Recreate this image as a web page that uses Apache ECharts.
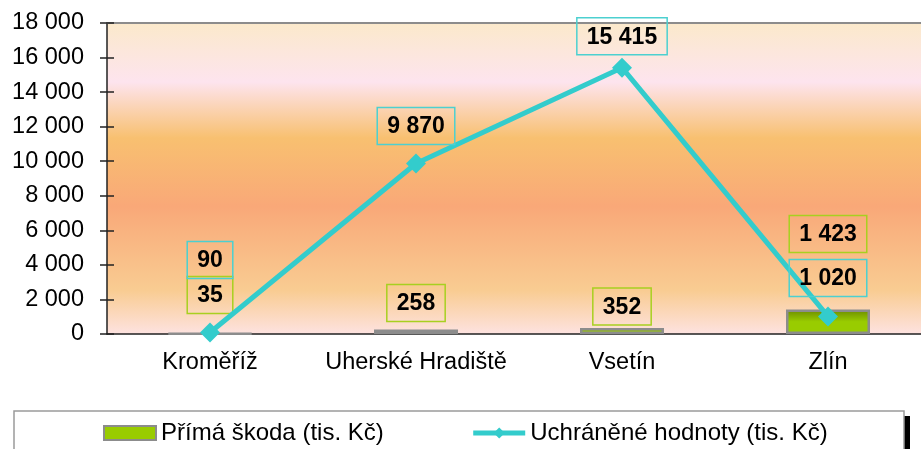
<!DOCTYPE html>
<html>
<head>
<meta charset="utf-8">
<script src="https://cdn.jsdelivr.net/npm/echarts@6.0.0/dist/echarts.min.js"></script>
<style>
  html, body { margin: 0; padding: 0; background: #fff; }
  #chart { width: 921px; height: 449px; }
</style>
</head>
<body>
<div id="chart"></div>
<script>
// data
const districts = ["Kroměříž", "Uherské Hradiště", "Vsetín", "Zlín"];
const primaDamage = [35, 258, 352, 1423];
const savedValues = [90, 9870, 15415, 1020];
// label lift above each mark (Excel labels were moved by hand)
const damageLabelLift = [19, 8, 3, 57];
const savedLabelLift = [44, 9, 3, 10];

const FONT = "Liberation Sans, Arial, sans-serif";

function spaced(v) {
  return String(v).replace(/\B(?=(\d{3})+(?!\d))/g, " ");
}

const chart = echarts.init(document.getElementById("chart"));

const plotFill = new echarts.graphic.LinearGradient(0, 0, 0, 1, [
  { offset: 0, color: "#fbe9cb" },
  { offset: 0.19, color: "#fde4ee" },
  { offset: 0.37, color: "#f8c070" },
  { offset: 0.59, color: "#f9a878" },
  { offset: 0.86, color: "#f9cc92" },
  { offset: 1, color: "#fde2e0" },
]);

const barFill = new echarts.graphic.LinearGradient(0, 0, 0, 1, [
  { offset: 0, color: "#6b8a00" },
  { offset: 0.5, color: "#99cc00" },
  { offset: 1, color: "#99cc00" },
]);

const labelBase = {
  show: true,
  position: "top",
  fontFamily: FONT,
  fontSize: 23,
  fontWeight: "bold",
  color: "#000",
  padding: [8, 10, 6, 10],
  borderWidth: 1.5,
  formatter: (p) => spaced(p.value),
};

const axisDark = { color: "#222", width: 1.5 };

chart.setOption({
  animation: false,
  textStyle: { fontFamily: FONT },
  grid: {
    left: 107,
    width: 824,
    top: 23,
    bottom: 115,
    outerBoundsMode: "none",
    show: true,
    borderWidth: 0,
    backgroundColor: plotFill,
  },
  // legend frame with its black drop shadow
  graphic: [
    {
      type: "rect",
      z: 0,
      shape: { x: 19, y: 416, width: 891, height: 60 },
      style: { fill: "#000" },
    },
    {
      type: "rect",
      z: 1,
      shape: { x: 14, y: 411, width: 890, height: 60 },
      style: { fill: "#fff", stroke: "#9a9a9a", lineWidth: 1.5 },
    },
  ],
  legend: {
    left: 103,
    top: 421,
    padding: 0,
    itemGap: 87,
    itemWidth: 52,
    itemHeight: 14,
    z: 10,
    textStyle: { fontFamily: FONT, fontSize: 24, color: "#000" },
    data: [
      {
        name: "Přímá škoda (tis. Kč)",
        icon: "rect",
        itemStyle: { color: "#99cc00", borderColor: "#8c8c8c", borderWidth: 2 },
      },
      {
        name: "Uchráněné hodnoty (tis. Kč)",
        lineStyle: { color: "#33cccc", width: 5 },
      },
    ],
  },
  xAxis: [
    {
      type: "category",
      data: districts,
      axisLine: { lineStyle: axisDark },
      axisTick: { length: 7, lineStyle: axisDark },
      axisLabel: { fontSize: 23.5, color: "#000", margin: 17, interval: 0 },
    },
    {
      type: "category",
      data: districts,
      position: "bottom",
      axisLine: { show: false },
      axisTick: { inside: true, length: 7, lineStyle: axisDark },
      axisLabel: { show: false },
    },
    {
      type: "category",
      data: districts,
      position: "top",
      axisLine: { lineStyle: { color: "#8c8c8c", width: 2 } },
      axisTick: { show: false },
      axisLabel: { show: false },
    },
  ],
  yAxis: [
    {
      type: "value",
      min: 0,
      max: 18000,
      interval: 2000,
      splitLine: { show: false },
      axisLine: { show: true, lineStyle: axisDark },
      axisTick: { show: true, length: 7, lineStyle: axisDark },
      axisLabel: {
        fontSize: 23.5,
        color: "#000",
        margin: 23,
        formatter: (v) => spaced(v),
      },
    },
    {
      type: "value",
      position: "left",
      min: 0,
      max: 18000,
      interval: 2000,
      splitLine: { show: false },
      axisLine: { show: false },
      axisTick: { show: true, inside: true, length: 7, lineStyle: axisDark },
      axisLabel: { show: false },
    },
  ],
  series: [
    {
      name: "Přímá škoda (tis. Kč)",
      type: "bar",
      barWidth: 84,
      itemStyle: { color: barFill, borderColor: "#8c8c8c", borderWidth: 2.5 },
      data: primaDamage.map((v, i) => ({
        value: v,
        label: { distance: damageLabelLift[i] },
      })),
      label: { ...labelBase, borderColor: "#a8d020" },
    },
    {
      name: "Uchráněné hodnoty (tis. Kč)",
      type: "line",
      symbol: "diamond",
      symbolSize: 20,
      lineStyle: { color: "#33cccc", width: 5 },
      itemStyle: { color: "#33cccc" },
      data: savedValues.map((v, i) => ({
        value: v,
        label: { distance: savedLabelLift[i] },
      })),
      label: { ...labelBase, borderColor: "#4cd0d0" },
      z: 5,
    },
  ],
});
</script>
</body>
</html>
